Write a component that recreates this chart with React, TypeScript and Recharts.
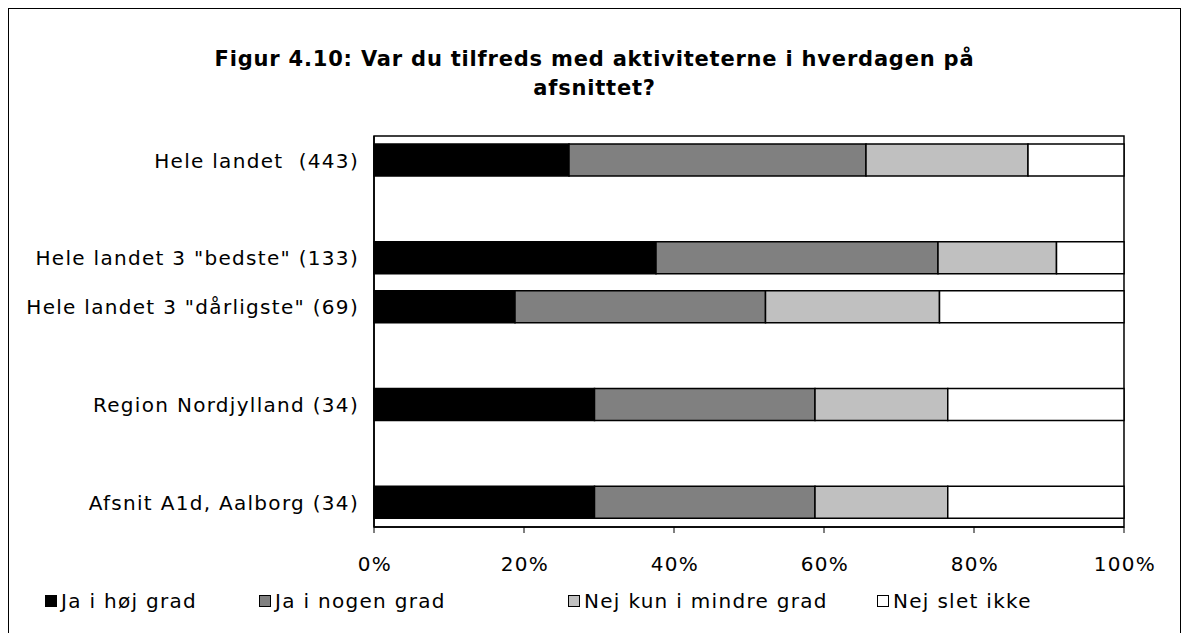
import React from 'react';
import { BarChart, Bar, XAxis, YAxis, ReferenceArea } from 'recharts';

// rows top to bottom; "gap" rows are the empty spacer rows in the original
const categories = [
  'Hele landet\u00A0 (443)',
  'gap1',
  'Hele landet 3 "bedste" (133)',
  'Hele landet 3 "dårligste" (69)',
  'gap2',
  'Region Nordjylland (34)',
  'gap3',
  'Afsnit A1d, Aalborg (34)',
];

const hoejGrad = [26.0, null, 37.6, 18.8, null, 29.4, null, 29.4];
const nogenGrad = [39.6, null, 37.6, 33.4, null, 29.4, null, 29.4];
const mindreGrad = [21.6, null, 15.8, 23.2, null, 17.7, null, 17.7];
const sletIkke = [12.8, null, 9.0, 24.6, null, 23.5, null, 23.5];

const xTicks = [0, 20, 40, 60, 80, 100];

const seriesNames = ['Ja i høj grad', 'Ja i nogen grad', 'Nej kun i mindre grad', 'Nej slet ikke'];
const seriesKeys = ['hoej', 'nogen', 'mindre', 'slet'];
const seriesColors = ['#000000', '#808080', '#c0c0c0', '#ffffff'];

const data = categories.map((name, i) => ({
  name,
  hoej: hoejGrad[i],
  nogen: nogenGrad[i],
  mindre: mindreGrad[i],
  slet: sletIkke[i],
}));

const font = '"DejaVu Sans", Verdana, sans-serif';

const legendLeft = [36, 250, 559, 868];

const App: React.FC = () => {
  return (
    <div
      style={{
        position: 'relative',
        width: 1173,
        height: 640,
        border: '1px solid #000',
        boxSizing: 'border-box',
        background: '#fff',
        fontFamily: font,
      }}
    >
      <div
        style={{
          position: 'absolute',
          left: 0,
          top: 36,
          width: 1171,
          textAlign: 'center',
          fontWeight: 'bold',
          fontSize: 21,
          letterSpacing: 0.8,
          lineHeight: '29px',
          color: '#000',
        }}
      >
        Figur 4.10: Var du tilfreds med aktiviteterne i hverdagen på
        <br />
        afsnittet?
      </div>

      <div style={{ position: 'absolute', left: 0, top: 0 }}>
        <BarChart
          width={1171}
          height={620}
          data={data}
          layout="vertical"
          barSize={32}
          margin={{ top: 127, right: 56, bottom: 62, left: 0 }}
        >
          <XAxis
            type="number"
            domain={[0, 100]}
            ticks={xTicks}
            tickFormatter={(v) => `${v}%`}
            axisLine={{ stroke: '#000', strokeWidth: 1.5 }}
            tickLine={{ stroke: '#000' }}
            tickSize={6}
            tickMargin={24}
            height={40}
            tick={{ fill: '#000', fontSize: 20, fontFamily: font, letterSpacing: 1.3, dx: 1 }}
            interval={0}
          />
          <YAxis
            type="category"
            dataKey="name"
            width={365}
            axisLine={{ stroke: '#000', strokeWidth: 1.5 }}
            tickLine={false}
            tickSize={0}
            tickMargin={15}
            interval={0}
            tickFormatter={(v: string) => (v.startsWith('gap') ? '' : v)}
            tick={{ fill: '#000', fontSize: 20, fontFamily: font, letterSpacing: 1.3 }}
          />
          <ReferenceArea x1={0} x2={100} fill="none" stroke="#000" strokeWidth={1.5} />
          {seriesKeys.map((key, i) => (
            <Bar
              key={key}
              dataKey={key}
              name={seriesNames[i]}
              stackId="a"
              fill={seriesColors[i]}
              stroke="#000"
              strokeWidth={1.5}
              isAnimationActive={false}
            />
          ))}
        </BarChart>
      </div>

      {seriesNames.map((name, i) => (
        <div
          key={name}
          style={{
            position: 'absolute',
            left: legendLeft[i],
            top: 580,
            fontSize: 20,
            letterSpacing: 1.3,
            lineHeight: '24px',
            color: '#000',
            display: 'flex',
            alignItems: 'center',
            whiteSpace: 'nowrap',
          }}
        >
          <span
            style={{
              display: 'inline-block',
              width: 10,
              height: 10,
              background: seriesColors[i],
              border: '1.5px solid #000',
              marginRight: 4,
            }}
          />
          {name}
        </div>
      ))}
    </div>
  );
};

export default App;
